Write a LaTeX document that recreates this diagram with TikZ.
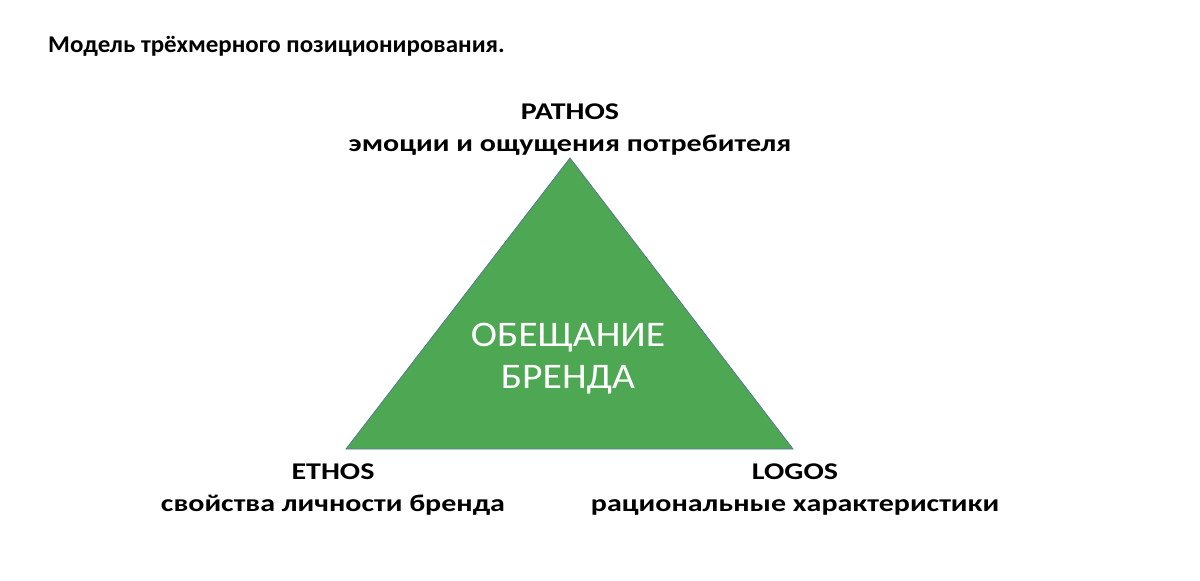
\documentclass[tikz,border=0pt]{standalone}
\usepackage{fontspec}
\setmainfont{Carlito}
\usetikzlibrary{positioning}
\definecolor{brandgreen}{RGB}{78,167,82}
\definecolor{edgeblue}{RGB}{90,120,150}
\newcommand{\wide}[2]{\scalebox{#1}[1]{#2}}

\begin{document}
\begin{tikzpicture}[x=1pt, y=-1pt,
		every corner/.style={font=\bfseries\fontsize{24}{28}\selectfont, anchor=base, inner sep=0pt},
		every title/.style={font=\bfseries\fontsize{24}{28}\selectfont, anchor=base west, inner sep=0pt},
		every promise/.style={font=\fontsize{36}{43}\selectfont, text=white, anchor=base, inner sep=0pt}]
		\useasboundingbox (0,0) rectangle (1200,581);
		\node [every title] (title) at (48,52) {\wide{1.04}{Модель трёхмерного позиционирования.}};
		% vertices of the triangle
		\coordinate (pathos) at (570,158);
		\coordinate (ethos) at (346,449);
		\coordinate (logos) at (793,449);
		\filldraw [fill=brandgreen, draw=edgeblue, line width=0.8pt] (pathos) -- (logos) -- (ethos) -- cycle;
		\node [every promise] (promise-1) at (568,346) {\wide{1.1}{ОБЕЩАНИЕ}};
		\node [every promise] (promise-2) at (568,388) {\wide{1.1}{БРЕНДА}};
		\foreach \l/\x/\y/\name/\desc in {
			pathos/570/119/PATHOS/эмоции и ощущения потребителя,
			ethos/333/479/ETHOS/свойства личности бренда,
			logos/795/479/LOGOS/рациональные характеристики} {
			\node [every corner] (\l-name) at (\x,\y) {\wide{1.25}{\name}};
			\node [every corner] (\l-desc) at (\x,\y+32) {\wide{1.25}{\desc}};
		};
	\end{tikzpicture}
\end{document}
